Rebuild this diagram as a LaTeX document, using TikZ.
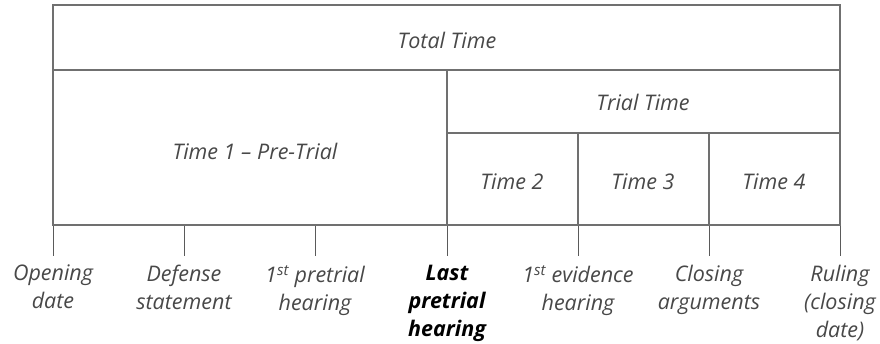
\documentclass[tikz,border=0pt]{standalone}
\usepackage{fontspec}
\setmainfont{Open Sans}
\usepackage{tikz}
\definecolor{linegray}{RGB}{112,112,112}
\definecolor{textgray}{RGB}{72,72,72}
\tikzset{
  cell/.style={draw=linegray, line width=1.4pt},
  tick/.style={draw=linegray!80!black, line width=1pt},
  celltext/.style={font=\itshape\fontsize{21.5}{26}\selectfont, text=textgray},
  eventtext/.style={font=\itshape\fontsize{21.5}{28}\selectfont, text=textgray,
    align=center, anchor=north, inner sep=0pt, yshift=-9pt},
}

\begin{document}
\begin{tikzpicture}[x=1pt,y=-1pt]
        \useasboundingbox (0,0) rectangle (880,344);

        % ticks under the box
        \foreach \x/\n in {53/1,184/2,315/3,447/4,578/5,709/6,840/7} {
            \coordinate (top\n) at (\x,225);
            \coordinate (end\n) at (\x,256);
            \draw [tick] (top\n) -- (end\n);
            };

        % the table of times
        \draw [cell] (53,5) rectangle (840,225);
        \draw [cell] (53,70) -- (840,70);
        \draw [cell] (447,70) -- (447,225);
        \draw [cell] (447,133) -- (840,133);
        \draw [cell] (578,133) -- (578,225);
        \draw [cell] (709,133) -- (709,225);

        \node [celltext] (total) at (447,40) {Total Time};
        \node [celltext] (trial) at (643,102) {Trial Time};
        \node [celltext] (pre) at (255,151) {Time 1 -- Pre-Trial};
        \node [celltext] (time2) at (512,182) {Time 2};
        \node [celltext] (time3) at (643,182) {Time 3};
        \node [celltext] (time4) at (774,182) {Time 4};

        % events
        \node [eventtext] (opening) at (end1) {Opening\\date};
        \node [eventtext] (defense) at (end2) {Defense\\statement};
        \node [eventtext] (firstpre) at (end3) {1\textsuperscript{st} pretrial\\hearing};
        \node [eventtext, font=\bfseries\itshape\fontsize{21.5}{28}\selectfont, text=black] (lastpre) at (end4) {Last\\pretrial\\hearing};
        \node [eventtext] (evidence) at (end5) {1\textsuperscript{st} evidence\\hearing};
        \node [eventtext] (closing) at (end6) {Closing\\arguments};
        \node [eventtext] (ruling) at (end7) {Ruling\\(closing\\date)};
\end{tikzpicture}
\end{document}
